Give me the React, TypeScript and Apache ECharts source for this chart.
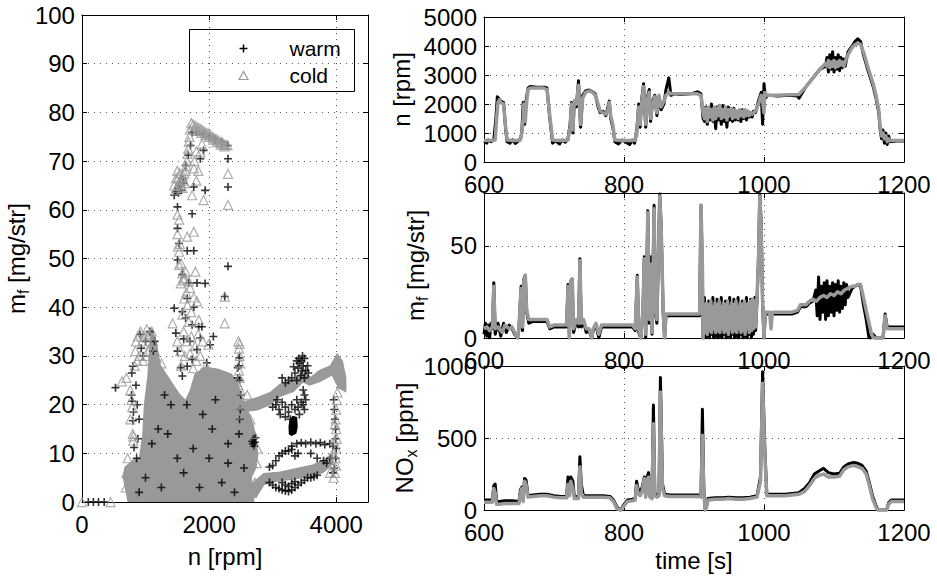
import React, { useEffect, useRef } from "react";
import * as echarts from "echarts";

const FONT = "'Liberation Sans', Arial, Helvetica, sans-serif";
const GRAY = "#999999";

// ---------- left scatter: n [rpm] vs m_f [mg/str] ----------
const warmScatter: [number, number][] = [
  [100, 0], [180, 0], [260, 0], [350, 0],
  [528, 23.5], [780, 22], [790, 20.7], [810, 18.5], [800, 16.7], [820, 11.2], [785, 26.5], [800, 27.9],
  [913, 34.4], [933, 31.6], [1067, 35], [1144, 33], [1000, 33], [960, 30], [1120, 31], [850, 24], [870, 20], [900, 17], [880, 13], [860, 9],
  [1451, 39.8], [1477, 34.7], [1503, 31], [1554, 27.6], [1579, 25.9], [1656, 27.9], [1733, 29.3], [1810, 31.3], [1862, 33.7],
  [1836, 36], [1887, 36], [1733, 36.4], [1631, 37.8], [1579, 39.1], [1656, 41.8], [1938, 44.9], [2067, 34], [2015, 32.3],
  [1964, 28.6], [2246, 42.2], [2451, 25.5], [2451, 27.6], [2477, 29.6], [1700, 33], [1600, 33.5], [1760, 40], [1680, 45],
  [1862, 70.5], [1913, 72.2], [2297, 70.5], [2297, 64.7], [2297, 48.4], [1733, 59.2], [1759, 64.7], [1938, 64], [1759, 51.6],
  [1656, 51.6], [1503, 56.2], [1528, 53.1], [1503, 49.7], [1503, 60.6], [1451, 63], [1810, 45], [1579, 46.7], [1477, 63.7],
  [1528, 65], [1579, 66.4], [1631, 69.1], [1672, 71.2], [1708, 73.2], [1733, 75.9], [1800, 76], [1900, 75.5], [2000, 75],
  [2100, 74.5], [2200, 74], [2290, 73.2], [1560, 64], [1600, 65.5], [1520, 63.5],
  [3150, 25.5], [3200, 24.5], [3250, 25], [3300, 25.5], [3330, 27.8], [3350, 26.5], [3380, 25], [3400, 27.5], [3410, 29.5],
  [3420, 28.5], [3440, 26], [3450, 29], [3460, 27], [3480, 28], [3500, 29.5], [3500, 25.5], [3520, 27], [3550, 28], [3560, 26.5],
  [3470, 30], [3380, 29],
  [3050, 20], [3100, 19], [3120, 18], [3150, 20.5], [3200, 19.5], [3200, 17.5], [3250, 18.5], [3280, 17], [3300, 20], [3350, 19],
  [3380, 21], [3400, 19.5], [3420, 18], [3450, 20.5], [3480, 23], [3500, 22], [3520, 21], [3480, 20], [3500, 19], [3000, 19.5], [3070, 21],
  [3300, 11.5], [3380, 12], [3450, 12.2], [3520, 12], [3600, 12.3], [3680, 12], [3750, 12.2], [3820, 11.8], [3900, 12], [3950, 11.5],
  [2950, 7.2], [3000, 7.5], [3050, 8.5], [3100, 9.5], [3150, 10], [3200, 10.5], [3250, 10.5], [3300, 10.8], [3350, 9.5], [3400, 10],
  [3600, 10], [3700, 9], [3800, 8.5], [3850, 8], [3900, 9],
  [2950, 4], [3000, 3.5], [3050, 3], [3100, 2.8], [3150, 2.5], [3200, 2.3], [3250, 2.2], [3300, 2.5], [3350, 3], [3400, 3.5],
  [3450, 4], [3500, 4.5], [3550, 5], [3600, 5], [3650, 5.2], [3700, 5.5], [3200, 3.5], [3300, 3.8], [3150, 4], [3250, 3.2], [3350, 4.2],
  [2680, 12.5], [2700, 13], [2720, 12.3], [2690, 12], [2710, 11.5], [2730, 13.2],
  [3960, 21], [3970, 19], [3980, 17], [3990, 15], [3990, 13], [4000, 11], [3990, 9], [3970, 7], [3950, 6],
  [2470, 14], [2480, 17], [2490, 19], [2500, 22], [2480, 25], [2470, 28],
  [1500, 9], [1650, 20], [2300, 8], [2300, 12], [1400, 20], [1900, 18], [2200, 4], [1200, 15], [1300, 22], [2100, 21],
  [1000, 5], [1100, 12], [1250, 3], [1350, 14], [1600, 6], [1750, 11], [1850, 3], [2000, 9], [2050, 15], [2400, 2], [2550, 7], [900, 2],
];

const warmBlob: [number, number][] = [
  [3270, 14], [3300, 13.8], [3360, 14.2], [3380, 15.5], [3370, 17.3], [3320, 17.5], [3280, 16.8], [3265, 15.5],
];

const coldScatter: [number, number][] = [
  [0, 0], [450, 0],
  [630, 24.8], [700, 25.5], [760, 23], [780, 21], [790, 19.5], [800, 14], [805, 12.6], [810, 13.5], [760, 17], [720, 9], [700, 6], [690, 3],
  [850, 33], [880, 34], [920, 35], [950, 33], [980, 34], [1020, 35.5], [1060, 34.5], [1100, 35], [1080, 32], [1040, 31], [900, 30],
  [870, 29], [830, 28], [840, 31], [1000, 30], [960, 29], [1120, 33], [1150, 31], [1170, 29.5],
  [1426, 36.7], [1554, 44.9], [1610, 41.8], [1660, 40.5], [1810, 41.2], [1840, 37.4], [1990, 32.3], [2246, 42.2], [2246, 36.7],
  [1500, 33], [1550, 31], [1560, 28], [1600, 35], [1620, 30], [1650, 33], [1680, 37], [1700, 30.5], [1720, 34], [1750, 27.5],
  [1780, 32], [1800, 29], [1830, 34.5], [1860, 30], [1880, 26.5], [1900, 33], [1950, 28], [1580, 38.5], [1640, 43], [1600, 46],
  [1700, 44], [1720, 39], [1760, 42],
  [2460, 33], [2470, 31.5], [2480, 30], [2490, 28.5], [2470, 27], [2480, 25.5], [2460, 24], [2490, 23], [2470, 22], [2480, 32.5],
  [1720, 77.8], [1750, 77.5], [1780, 77.3], [1810, 77], [1840, 76.8], [1870, 76.6], [1900, 76.3], [1930, 76], [1960, 75.8],
  [1990, 75.6], [2020, 75.3], [2050, 75], [2080, 74.8], [2110, 74.5], [2140, 74.3], [2170, 74], [2200, 73.8], [2230, 73.5],
  [2260, 73.3], [2290, 73.3], [1760, 76.5], [1820, 76.2], [1880, 75.8], [1940, 75.4], [2000, 75], [2060, 74.4], [2120, 73.9],
  [2180, 73.4], [2240, 73],
  [1700, 76.5], [1690, 75], [1680, 74], [1670, 72.5], [1660, 71.5], [1650, 70], [1640, 69], [1630, 68], [1610, 67.5], [1590, 67],
  [1570, 66.5], [1550, 66], [1530, 65.5], [1510, 65], [1490, 64.5], [1470, 64], [1450, 65], [1480, 66.5], [1500, 68], [1520, 66.8],
  [1540, 67.5], [1560, 65], [1580, 64.5], [1600, 66], [1620, 65.5],
  [1733, 63], [1913, 62], [1862, 71.8], [1887, 73.5], [2297, 67.4], [2297, 61], [1759, 55.5], [1656, 54.5], [1503, 59], [1503, 55],
  [1528, 51.4], [1528, 48.7], [1631, 47.3], [1785, 47.3], [1682, 45.3], [1530, 58], [1540, 53], [1560, 49], [1580, 47], [1600, 45.5],
  [1510, 52.5], [1770, 70], [1800, 72], [1830, 68], [1760, 68.5], [1800, 66],
  [3960, 5], [3980, 6], [4000, 7.5], [3990, 9], [4000, 11], [4010, 13], [4000, 15], [3990, 17], [4000, 19], [4010, 21], [4020, 22.5],
  [3950, 10], [3930, 8], [3900, 6], [3970, 12.5], [3980, 16],
  [2420, 20], [2440, 18], [2720, 4], [2750, 8], [2760, 11], [2700, 14], [2650, 17], [2550, 20], [2600, 22], [1150, 27], [1250, 28.5],
];

const coldCloud: [number, number][] = [
  [733, 0], [656, 5.1], [682, 7.1], [810, 8.5], [913, 9.2], [964, 13.9], [990, 20], [1041, 25.5], [1067, 30.3], [1092, 35.7],
  [1169, 32.3], [1221, 28.2], [1426, 24.1], [1528, 22.1], [1631, 20.7], [1708, 22.8], [1785, 26.2], [1938, 27.6], [2144, 27.2],
  [2349, 26.2], [2451, 24.1], [2503, 21.4], [2605, 18.7], [2682, 16], [2733, 13.3], [2759, 9.9], [2733, 7.1], [2656, 5.1],
  [2682, 2.4], [2697, 0],
];
const coldUpperBand: [number, number][] = [
  [2528, 20.4], [2759, 21.4], [2964, 22.4], [3118, 24.1], [3323, 24.8], [3477, 26.5], [3605, 25.5], [3733, 26.9], [3913, 27.9],
  [4015, 30.3], [4092, 28.9], [4144, 25.5], [4144, 22.8], [4041, 23.5], [3938, 26.2], [3733, 24.8], [3579, 24.1], [3477, 24.8],
  [3323, 22.8], [3118, 21.8], [2964, 20.1], [2759, 19], [2554, 18.7],
];
const coldLowBand: [number, number][] = [
  [2631, 1.7], [2682, 3.7], [2862, 5.8], [3118, 6.1], [3374, 6.8], [3631, 7.5], [3836, 8.8], [3938, 9.9], [3938, 7.8],
  [3785, 6.1], [3579, 5.4], [3323, 4.8], [3067, 4.4], [2862, 3.7], [2733, 1],
];

// ---------- time series [t (s), value] ----------
const coldN: [number, number][] = [
  [600, 740], [605, 740], [612, 740], [616, 760], [618, 1500], [620, 2050], [622, 2150], [624, 2050], [628, 2000], [631, 1200],
  [633, 760], [640, 740], [648, 740], [652, 760], [654, 1000], [656, 1500], [657, 2000], [659, 1400], [661, 2100], [663, 2500],
  [666, 2550], [675, 2550], [685, 2550], [690, 2500], [694, 1600], [698, 760], [705, 740], [715, 740], [720, 760], [723, 1200],
  [725, 2000], [727, 1100], [729, 2100], [732, 2000], [735, 2650], [738, 1300], [741, 2200], [745, 2400], [750, 2450], [755, 2400],
  [759, 2300], [763, 2000], [766, 1750], [770, 1700], [774, 1650], [777, 1800], [779, 2050], [781, 1600], [784, 1300], [787, 760],
  [795, 740], [805, 740], [815, 740], [818, 900], [821, 1900], [823, 1300], [825, 2000], [828, 2600], [831, 1300], [834, 2200],
  [836, 2400], [838, 1500], [841, 2000], [844, 2250], [847, 1700], [850, 2300], [853, 1900], [857, 2100], [860, 2300], [864, 2400],
  [868, 2350], [880, 2350], [895, 2350], [905, 2350], [910, 2300], [913, 1700],
  [915, 1500], [917, 1850], [919, 1400], [921, 1900], [923, 1550], [925, 1800], [927, 1450], [929, 1900], [931, 1500], [933, 1850],
  [935, 1600], [937, 1950], [939, 1500], [941, 1800], [943, 1550], [945, 1900], [947, 1450], [949, 1800], [951, 1600], [953, 1850],
  [955, 1500], [957, 1800], [959, 1550], [961, 1750], [963, 1500], [965, 1800], [967, 1600], [969, 1750], [971, 1550], [973, 1800],
  [975, 1600], [977, 1750], [979, 1600], [981, 1700], [983, 1650], [985, 1700], [988, 1750], [992, 2000], [996, 2300], [998, 2100],
  [1000, 1700], [1001, 2400], [1004, 2300], [1020, 2300], [1035, 2320], [1050, 2330], [1060, 2600], [1070, 2900], [1080, 3200],
  [1088, 3400], [1090, 3300], [1092, 3500], [1094, 3250], [1096, 3450], [1098, 3300], [1100, 3500], [1102, 3250], [1104, 3450],
  [1106, 3300], [1108, 3500], [1110, 3350], [1112, 3450], [1114, 3300], [1116, 3450], [1120, 3700], [1126, 3950], [1130, 4050],
  [1134, 4100], [1138, 4050], [1142, 3800], [1148, 3300], [1152, 3000], [1156, 2700], [1160, 2300], [1164, 1800], [1166, 1200],
  [1168, 900], [1170, 1000], [1172, 800], [1174, 900], [1176, 700], [1178, 800], [1180, 740], [1190, 740], [1200, 740],
];
const warmN: [number, number][] = [
  [600, 720], [604, 650], [606, 760], [610, 700], [614, 760], [617, 1500], [619, 2250], [621, 2200], [624, 2100], [628, 2050],
  [631, 1100], [633, 700], [637, 650], [641, 760], [645, 640], [649, 720], [652, 800], [654, 1000], [656, 2050], [658, 1300],
  [660, 2100], [663, 2550], [666, 2600], [676, 2580], [686, 2580], [690, 2550], [694, 1500], [698, 650], [702, 740], [708, 620],
  [712, 760], [716, 680], [720, 800], [723, 1300], [725, 2050], [727, 1000], [729, 2100], [732, 1900], [735, 2800], [738, 1200],
  [741, 2300], [745, 2450], [750, 2480], [755, 2420], [759, 2350], [763, 1900], [766, 1700], [770, 1750], [774, 1600], [777, 1900],
  [779, 2100], [781, 1500], [784, 1200], [787, 700], [792, 620], [797, 760], [803, 680], [808, 600], [812, 760], [815, 650],
  [818, 1000], [821, 2000], [823, 1200], [825, 2100], [828, 2700], [831, 1200], [834, 2300], [836, 2500], [838, 1400], [841, 2100],
  [844, 2300], [847, 1600], [850, 2200], [853, 1800], [857, 2000], [860, 2500], [864, 2900], [867, 2300], [872, 2350], [880, 2330],
  [895, 2350], [905, 2420], [910, 2350], [913, 1500],
  [915, 1400], [917, 1900], [919, 1300], [921, 1850], [923, 1450], [925, 2000], [927, 1400], [929, 1800], [931, 1150], [933, 1900],
  [935, 1450], [937, 1800], [939, 1300], [941, 1950], [943, 1400], [945, 1850], [947, 1200], [949, 1900], [951, 1450], [953, 1800],
  [955, 1400], [957, 1850], [959, 1450], [961, 1750], [963, 1450], [965, 1700], [967, 1400], [969, 1800], [971, 1500], [973, 1750],
  [975, 1450], [977, 1750], [979, 1550], [981, 1700], [983, 1550], [985, 1750], [988, 1700], [992, 2100], [996, 2400], [998, 1300],
  [1000, 2700], [1002, 2200], [1005, 2300], [1020, 2280], [1035, 2300], [1048, 2280], [1050, 2200], [1060, 2600], [1070, 2900],
  [1080, 3200], [1088, 3300], [1090, 3600], [1092, 3100], [1094, 3700], [1096, 3200], [1098, 3800], [1100, 3100], [1102, 3600],
  [1104, 3200], [1106, 3700], [1108, 3150], [1110, 3600], [1112, 3250], [1114, 3550], [1116, 3300], [1120, 3800], [1126, 4000],
  [1130, 4150], [1134, 4250], [1138, 4150], [1142, 3700], [1148, 3200], [1152, 2900], [1156, 2600], [1160, 2200], [1164, 1700],
  [1166, 1100], [1168, 800], [1170, 1100], [1172, 650], [1174, 1000], [1176, 600], [1178, 900], [1180, 700], [1190, 720], [1200, 720],
];

const coldMf: [number, number][] = [
  [600, 5], [604, 6], [608, 4], [612, 6], [614, 28], [616, 5], [620, 6], [626, 3], [630, 7], [636, 5], [640, 6], [645, 2], [648, 0],
  [650, 5], [653, 27], [655, 6], [657, 30], [659, 34], [661, 15], [664, 10], [670, 10], [680, 10], [690, 10], [694, 6], [700, 7],
  [710, 7], [718, 7], [720, 28], [722, 0], [724, 31], [726, 32], [728, 5], [732, 10], [735, 8], [737, 42], [739, 8], [742, 10],
  [746, 5], [750, 5], [754, 0], [756, 5], [760, 8], [764, 2], [768, 7], [772, 7], [780, 7], [790, 7], [798, 7], [805, 7], [812, 7],
  [816, 5], [819, 33], [821, 5], [824, 0], [827, 15], [829, 43], [831, 2], [834, 68], [836, 10], [838, 40], [840, 3], [843, 70],
  [845, 15], [847, 10], [851, 77], [853, 60], [856, 15], [858, 0], [860, 13], [870, 13], [880, 13], [890, 13], [900, 13], [908, 13],
  [910, 72], [912, 40], [913, 0],
  [915, 18], [916, 3], [918, 19], [919, 2], [921, 18], [922, 4], [924, 20], [925, 3], [927, 17], [928, 5], [930, 19], [931, 3],
  [933, 18], [934, 4], [936, 20], [937, 3], [939, 17], [940, 5], [942, 19], [943, 3], [945, 18], [946, 4], [948, 20], [949, 2],
  [951, 17], [952, 5], [954, 19], [955, 3], [957, 18], [958, 4], [960, 20], [961, 3], [963, 17], [964, 5], [966, 19], [967, 3],
  [969, 18], [970, 4], [972, 20], [973, 2], [975, 18], [976, 5], [978, 19], [979, 3], [981, 20], [982, 4], [984, 21], [985, 5],
  [987, 20], [988, 6], [990, 22], [992, 40], [994, 77], [996, 60], [998, 20], [1000, 0], [1002, 14], [1008, 14], [1010, 5],
  [1012, 14], [1020, 14], [1030, 14], [1040, 14], [1048, 15], [1052, 18], [1060, 18], [1065, 20], [1070, 21], [1075, 20],
  [1080, 22], [1085, 23], [1090, 22], [1095, 24], [1100, 23], [1105, 25], [1110, 24], [1115, 26], [1120, 27], [1126, 28],
  [1130, 28], [1134, 29], [1138, 29], [1142, 22], [1146, 15], [1150, 8], [1153, 3], [1156, 0], [1165, 0], [1170, 0], [1173, 12],
  [1176, 5], [1180, 5], [1190, 5], [1200, 5],
];
const warmMf: [number, number][] = [
  [600, 2], [602, 8], [604, 1], [606, 7], [608, 0], [610, 8], [612, 5], [614, 30], [616, 2], [620, 8], [624, 1], [628, 8], [632, 3],
  [636, 7], [640, 5], [644, 2], [648, 0], [650, 6], [653, 28], [655, 4], [657, 32], [659, 34], [661, 14], [664, 8], [670, 9],
  [680, 9], [690, 9], [694, 5], [700, 6], [710, 6], [718, 6], [720, 29], [722, 0], [724, 31], [726, 32], [728, 3], [732, 9],
  [735, 6], [737, 43], [739, 6], [742, 9], [746, 3], [750, 4], [754, 0], [756, 4], [760, 7], [764, 0], [768, 6], [772, 6], [780, 6],
  [790, 6], [798, 6], [805, 6], [812, 6], [816, 4], [819, 34], [821, 3], [824, 0], [827, 14], [829, 44], [831, 0], [834, 69],
  [836, 8], [838, 44], [840, 2], [843, 72], [845, 13], [847, 8], [851, 78], [853, 62], [856, 13], [858, 0], [860, 12], [870, 12],
  [880, 12], [890, 12], [900, 12], [908, 12], [910, 72], [912, 35], [913, 0],
  [915, 22], [916, 0], [918, 10], [919, 1], [921, 20], [922, 0], [924, 8], [925, 2], [927, 22], [928, 0], [930, 12], [931, 1],
  [933, 21], [934, 0], [936, 9], [937, 1], [939, 22], [940, 0], [942, 11], [943, 2], [945, 20], [946, 0], [948, 9], [949, 1],
  [951, 22], [952, 0], [954, 12], [955, 2], [957, 21], [958, 0], [960, 10], [961, 1], [963, 22], [964, 0], [966, 11], [967, 2],
  [969, 20], [970, 0], [972, 9], [973, 1], [975, 22], [976, 0], [978, 12], [979, 2], [981, 21], [982, 0], [984, 12], [985, 2],
  [987, 22], [988, 4], [990, 20], [992, 42], [994, 78], [996, 62], [998, 18], [1000, 0], [1002, 13], [1008, 13], [1012, 13],
  [1020, 13], [1030, 13], [1040, 13], [1048, 14], [1052, 17], [1060, 17], [1065, 19], [1070, 20], [1074, 26], [1076, 12],
  [1078, 33], [1080, 10], [1082, 28], [1084, 14], [1086, 30], [1088, 10], [1090, 31], [1092, 12], [1094, 28], [1096, 14],
  [1098, 30], [1100, 12], [1102, 29], [1104, 15], [1106, 31], [1108, 14], [1110, 28], [1112, 16], [1114, 30], [1116, 18],
  [1118, 29], [1120, 22], [1126, 27], [1130, 28], [1134, 29], [1138, 28], [1142, 18], [1146, 10], [1150, 0], [1153, 0],
  [1156, 2], [1160, 0], [1165, 0], [1170, 0], [1173, 13], [1176, 6], [1180, 6], [1190, 6], [1200, 6],
];

const coldNox: [number, number][] = [
  [600, 55], [612, 55], [614, 150], [616, 120], [618, 40], [622, 40], [630, 45], [640, 45], [650, 45], [652, 120], [654, 150],
  [656, 60], [658, 200], [660, 180], [663, 90], [670, 95], [680, 100], [690, 100], [700, 90], [710, 85], [718, 85], [720, 180],
  [722, 100], [724, 200], [727, 150], [729, 80], [735, 80], [737, 300], [739, 120], [742, 90], [750, 90], [760, 90], [770, 90],
  [780, 85], [785, 60], [790, 10], [795, 0], [800, 30], [805, 60], [812, 65], [816, 70], [818, 170], [820, 120], [823, 100],
  [826, 130], [829, 220], [831, 90], [833, 210], [835, 230], [837, 90], [840, 80], [842, 600], [844, 100], [847, 90], [850, 100],
  [852, 820], [855, 150], [858, 100], [865, 95], [880, 95], [895, 95], [905, 95], [910, 90], [912, 520], [914, 120], [916, 0],
  [918, 20], [920, 70], [930, 75], [940, 75], [950, 80], [960, 75], [970, 75], [980, 80], [990, 90], [995, 200], [998, 880],
  [1001, 400], [1004, 100], [1010, 100], [1020, 100], [1030, 100], [1040, 105], [1050, 110], [1058, 130], [1065, 170],
  [1072, 220], [1078, 240], [1085, 250], [1092, 230], [1100, 230], [1108, 235], [1114, 280], [1120, 300], [1128, 310],
  [1134, 300], [1140, 290], [1146, 250], [1150, 180], [1155, 80], [1160, 20], [1163, 0], [1175, 0], [1178, 40], [1182, 60], [1200, 60],
];
const warmNox: [number, number][] = [
  [600, 70], [612, 70], [614, 170], [616, 180], [618, 60], [622, 60], [630, 65], [640, 65], [650, 60], [652, 140], [654, 160],
  [656, 80], [658, 220], [660, 210], [663, 100], [670, 105], [680, 110], [690, 110], [700, 100], [710, 95], [718, 95], [720, 230],
  [722, 120], [724, 230], [727, 200], [729, 95], [735, 95], [737, 370], [739, 180], [742, 100], [750, 100], [760, 100], [770, 100],
  [780, 95], [785, 70], [790, 20], [795, 0], [800, 40], [805, 70], [812, 75], [816, 80], [818, 200], [820, 150], [823, 120],
  [826, 160], [829, 230], [831, 100], [833, 230], [835, 260], [837, 100], [840, 90], [842, 730], [844, 120], [847, 100], [850, 110],
  [852, 920], [855, 180], [858, 110], [865, 105], [880, 105], [895, 105], [905, 105], [910, 100], [912, 700], [914, 150], [916, 0],
  [918, 30], [920, 80], [930, 85], [940, 85], [950, 90], [960, 85], [970, 85], [980, 90], [990, 100], [995, 230], [998, 960],
  [1001, 450], [1004, 110], [1010, 110], [1020, 110], [1030, 110], [1040, 115], [1050, 120], [1058, 150], [1065, 190],
  [1072, 250], [1078, 270], [1085, 290], [1092, 260], [1100, 250], [1108, 255], [1114, 300], [1120, 320], [1128, 330],
  [1134, 325], [1140, 310], [1146, 270], [1150, 200], [1155, 100], [1160, 30], [1163, 0], [1175, 0], [1178, 50], [1182, 70], [1200, 70],
];

const legendNames = ["warm", "cold"];

// ---------- layout ----------
const LEFT_GRID = { left: 74, top: 15, width: 294, height: 491 };
const RIGHT_LEFT = 484;
const RIGHT_W = 420;
const RIGHT_TOPS = [17, 193, 366];
const RIGHT_H = 145;

const FS = 24;
const PLUS = "path://M4,0H6V4H10V6H6V10H4V6H0V4H4Z";

const nameStyle = {
  color: "#000",
  fontSize: FS,
  fontFamily: FONT,
  lineHeight: 30,
  rich: { s: { fontSize: 16, fontFamily: FONT, color: "#000", verticalAlign: "bottom", lineHeight: 16 } },
};

const tickLabel = { color: "#000", fontSize: FS, fontFamily: FONT, lineHeight: 20 };

function mainX(grid: number, min: number, max: number, interval: number, name?: string, gap?: number, hideMax?: boolean) {
  return {
    type: "value", gridIndex: grid, position: "bottom", min, max, interval,
    name: name || "", nameLocation: "middle", nameGap: gap || 30, nameTextStyle: nameStyle,
    axisLine: { show: true, onZero: false, lineStyle: { color: "#000", width: 1 } },
    axisTick: { show: true, inside: true, length: 5, lineStyle: { color: "#000" } },
    axisLabel: { ...tickLabel, margin: 12, formatter: (v: number) => String(v), showMaxLabel: hideMax ? false : undefined },
    splitLine: { show: true, lineStyle: { color: "#555", type: [1, 5], width: 1 } },
  };
}
function mirrorX(grid: number, min: number, max: number, interval: number) {
  return {
    type: "value", gridIndex: grid, position: "top", min, max, interval,
    axisLine: { show: true, onZero: false, lineStyle: { color: "#000", width: 1 } },
    axisTick: { show: true, inside: true, length: 5, lineStyle: { color: "#000" } },
    axisLabel: { show: false }, splitLine: { show: false },
  };
}
function mainY(grid: number, min: number, max: number, interval: number, name: string, gap: number, hideMax?: boolean) {
  return {
    type: "value", gridIndex: grid, position: "left", min, max, interval,
    name, nameLocation: "middle", nameGap: gap, nameTextStyle: nameStyle,
    axisLine: { show: true, onZero: false, lineStyle: { color: "#000", width: 1 } },
    axisTick: { show: true, inside: true, length: 5, lineStyle: { color: "#000" } },
    axisLabel: { ...tickLabel, margin: 7, formatter: (v: number) => String(v), showMaxLabel: hideMax ? false : undefined },
    splitLine: { show: true, lineStyle: { color: "#555", type: [1, 5], width: 1 } },
  };
}
function mirrorY(grid: number, min: number, max: number, interval: number) {
  return {
    type: "value", gridIndex: grid, position: "right", min, max, interval,
    axisLine: { show: true, onZero: false, lineStyle: { color: "#000", width: 1 } },
    axisTick: { show: true, inside: true, length: 5, lineStyle: { color: "#000" } },
    axisLabel: { show: false }, splitLine: { show: false },
  };
}

function polySeries(poly: [number, number][], color: string, z: number) {
  return {
    type: "custom",
    xAxisIndex: 0,
    yAxisIndex: 0,
    z,
    silent: true,
    clip: true,
    data: [poly[0]],
    renderItem: (_p: any, api: any) => ({
      type: "polygon",
      shape: { points: poly.map((pt) => api.coord(pt)) },
      style: { fill: color, stroke: color, lineWidth: 2 },
    }),
  };
}

function lineSeries(data: [number, number][], color: string, ax: number, width: number, z: number) {
  return {
    type: "line",
    xAxisIndex: ax,
    yAxisIndex: ax,
    data,
    z,
    symbol: "none",
    showSymbol: false,
    clip: true,
    lineStyle: { color, width, join: "round" },
    itemStyle: { color },
  };
}

function buildOption() {
  const grids = [
    { ...LEFT_GRID, containLabel: false },
    ...RIGHT_TOPS.map((t) => ({ left: RIGHT_LEFT, top: t, width: RIGHT_W, height: RIGHT_H, containLabel: false })),
  ];
  return {
    animation: false,
    backgroundColor: "#fff",
    textStyle: { fontFamily: FONT },
    grid: grids,
    xAxis: [
      mainX(0, 0, 4500, 2000, "n [rpm]", 33, true),
      mirrorX(0, 0, 4500, 2000),
      mainX(1, 600, 1200, 200),
      mirrorX(1, 600, 1200, 200),
      mainX(2, 600, 1200, 200),
      mirrorX(2, 600, 1200, 200),
      mainX(3, 600, 1200, 200, "time [s]", 33),
      mirrorX(3, 600, 1200, 200),
    ],
    yAxis: [
      mainY(0, 0, 100, 10, "m{s|f} [mg/str]", 36),
      mirrorY(0, 0, 100, 10),
      mainY(1, 0, 5000, 1000, "n [rpm]", 68),
      mirrorY(1, 0, 5000, 1000),
      mainY(2, 0, 78.6, 50, "m{s|f} [mg/str]", 54, true),
      mirrorY(2, 0, 78.6, 50),
      mainY(3, 0, 1000, 500, "NO{s|x} [ppm]", 62),
      mirrorY(3, 0, 1000, 500),
    ],
    series: [
      polySeries(warmBlob, "#000", 2),
      polySeries(coldCloud, GRAY, 2),
      polySeries(coldUpperBand, GRAY, 2),
      polySeries(coldLowBand, GRAY, 2),
      {
        name: legendNames[0],
        type: "scatter",
        xAxisIndex: 0,
        yAxisIndex: 0,
        data: warmScatter,
        symbol: PLUS,
        symbolSize: 8,
        z: 3,
        itemStyle: { color: "#000" },
      },
      {
        name: legendNames[1],
        type: "scatter",
        xAxisIndex: 0,
        yAxisIndex: 0,
        data: coldScatter,
        symbol: "triangle",
        symbolSize: 9,
        z: 4,
        itemStyle: { color: "rgba(0,0,0,0)", borderColor: GRAY, borderWidth: 1.2 },
      },
      lineSeries(warmN, "#000", 2, 3, 2),
      lineSeries(coldN, GRAY, 2, 3.5, 3),
      lineSeries(warmMf, "#000", 4, 3, 2),
      lineSeries(coldMf, GRAY, 4, 3.5, 3),
      lineSeries(warmNox, "#000", 6, 3, 2),
      lineSeries(coldNox, GRAY, 6, 3.5, 3),
    ],
    graphic: [
      {
        type: "group",
        left: 189,
        top: 29,
        z: 100,
        children: [
          { type: "rect", shape: { x: 0, y: 0, width: 165, height: 62 }, style: { fill: "#fff", stroke: "#000", lineWidth: 1 } },
          { type: "line", shape: { x1: 50, y1: 19, x2: 58, y2: 19 }, style: { stroke: "#000", lineWidth: 1.5 } },
          { type: "line", shape: { x1: 54, y1: 15, x2: 54, y2: 23 }, style: { stroke: "#000", lineWidth: 1.5 } },
          { type: "polygon", shape: { points: [[49.5, 50], [58.5, 50], [54, 42]] }, style: { fill: "none", stroke: GRAY, lineWidth: 1.2 } },
          { type: "text", x: 100, y: 19, style: { text: legendNames[0], fontSize: 21, fontFamily: FONT, fill: "#000", verticalAlign: "middle" } },
          { type: "text", x: 100, y: 46, style: { text: legendNames[1], fontSize: 21, fontFamily: FONT, fill: "#000", verticalAlign: "middle" } },
        ],
      },
    ],
  };
}

export default function App() {
  const ref = useRef<HTMLDivElement>(null);
  useEffect(() => {
    if (!ref.current) return;
    const chart = echarts.init(ref.current, null, { renderer: "svg" });
    chart.setOption(buildOption() as any);
    return () => chart.dispose();
  }, []);
  return (
    <div
      ref={ref}
      style={{ position: "fixed", left: 0, top: 0, width: 937, height: 576, background: "#fff" }}
    />
  );
}
